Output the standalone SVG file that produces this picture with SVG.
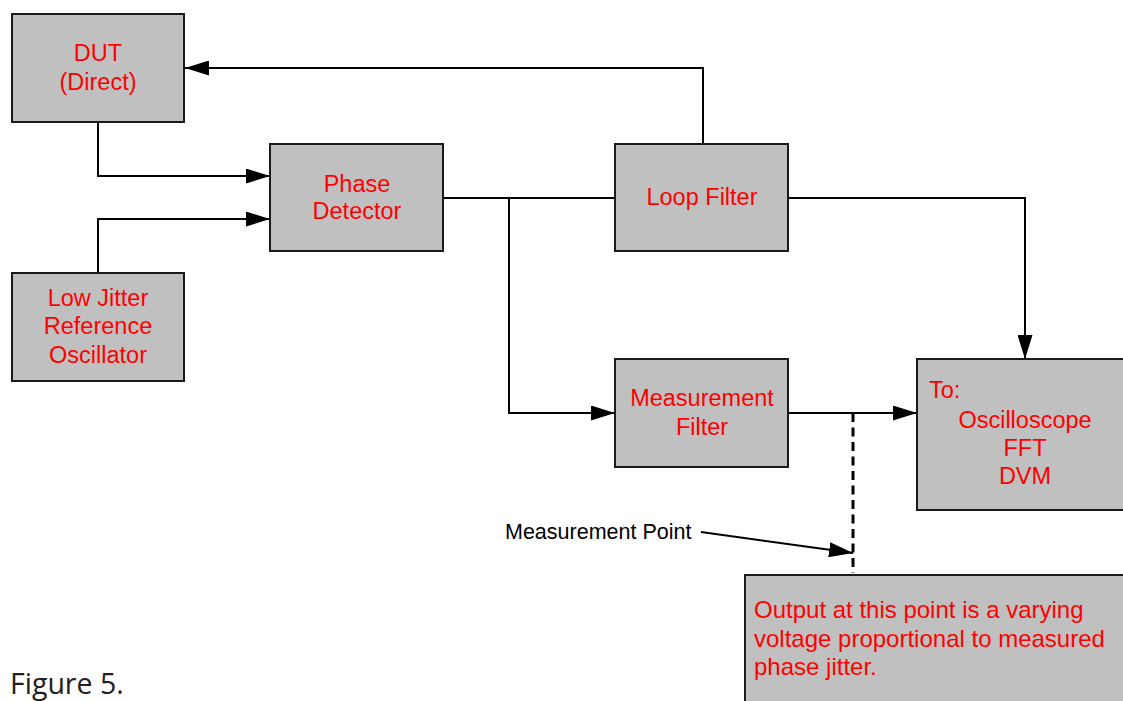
<svg xmlns="http://www.w3.org/2000/svg" width="1123" height="701" viewBox="0 0 1123 701">
<style>
.box{fill:#c0c0c0;stroke:#1a1a1a;stroke-width:2}
.lbl{font-family:"Liberation Sans",Arial,sans-serif;font-size:23.5px;fill:#ff0000;text-anchor:middle}
.lft{text-anchor:start}
.big{font-size:24px}
.wire{fill:none;stroke:#000;stroke-width:2}
.dash{fill:none;stroke:#000;stroke-width:3;stroke-dasharray:9 5.5}
.note{font-family:"Liberation Sans",Arial,sans-serif;font-size:21.5px;fill:#000}
.fig{font-family:"Open Sans","Noto Sans",sans-serif;font-size:28.5px;fill:#231f20}
</style>
<defs>
<marker id="ah" markerUnits="userSpaceOnUse" markerWidth="24" markerHeight="15" refX="24" refY="7.5" orient="auto" viewBox="0 0 24 15">
<path d="M0,0 L24,7.5 L0,15 Z" fill="#000"/>
</marker>
</defs>
<rect width="1123" height="701" fill="#fff"/>
<g id="connectors">
<path class="wire" d="M98,122 V176 H270" marker-end="url(#ah)"/>
<path class="wire" d="M98,273 V219 H270" marker-end="url(#ah)"/>
<path class="wire" d="M703,144 V68 H185" marker-end="url(#ah)"/>
<path class="wire" d="M443,198 H615"/>
<path class="wire" d="M509,198 V413 H615" marker-end="url(#ah)"/>
<path class="wire" d="M788,198 H1025 V359" marker-end="url(#ah)"/>
<path class="wire" d="M788,413 H917" marker-end="url(#ah)"/>
<path class="dash" d="M853,413 V573"/>
<path class="wire" d="M701,532 L853,553" marker-end="url(#ah)"/>
</g>
<g id="dut">
<rect class="box" x="12" y="14" width="172" height="108"/>
<text class="lbl" x="98" y="61">DUT</text>
<text class="lbl" x="98" y="90">(Direct)</text>
</g>
<g id="phase-detector">
<rect class="box" x="270" y="144" width="173" height="107"/>
<text class="lbl" x="357" y="192">Phase</text>
<text class="lbl" x="357" y="219">Detector</text>
</g>
<g id="reference-oscillator">
<rect class="box" x="12" y="273" width="172" height="108"/>
<text class="lbl" x="98" y="306">Low Jitter</text>
<text class="lbl" x="98" y="334">Reference</text>
<text class="lbl" x="98" y="363">Oscillator</text>
</g>
<g id="loop-filter">
<rect class="box" x="615" y="144" width="173" height="107"/>
<text class="lbl" x="702" y="205">Loop Filter</text>
</g>
<g id="measurement-filter">
<rect class="box" x="615" y="359" width="173" height="108"/>
<text class="lbl" x="702" y="406">Measurement</text>
<text class="lbl" x="702" y="435">Filter</text>
</g>
<g id="instruments">
<rect class="box" x="917" y="359" width="215" height="151"/>
<text class="lbl lft" x="929" y="398">To:</text>
<text class="lbl" x="1025" y="428">Oscilloscope</text>
<text class="lbl" x="1025" y="456">FFT</text>
<text class="lbl" x="1025" y="484">DVM</text>
</g>
<g id="measurement-point">
<text class="note" x="505" y="539">Measurement Point</text>
</g>
<g id="output-note">
<rect class="box" x="745" y="575" width="390" height="140"/>
<text class="lbl lft big" x="754" y="618">Output at this point is a varying</text>
<text class="lbl lft big" x="754" y="647">voltage proportional to measured</text>
<text class="lbl lft big" x="754" y="675">phase jitter.</text>
</g>
<text class="fig" x="10" y="694">Figure 5.</text>
</svg>
